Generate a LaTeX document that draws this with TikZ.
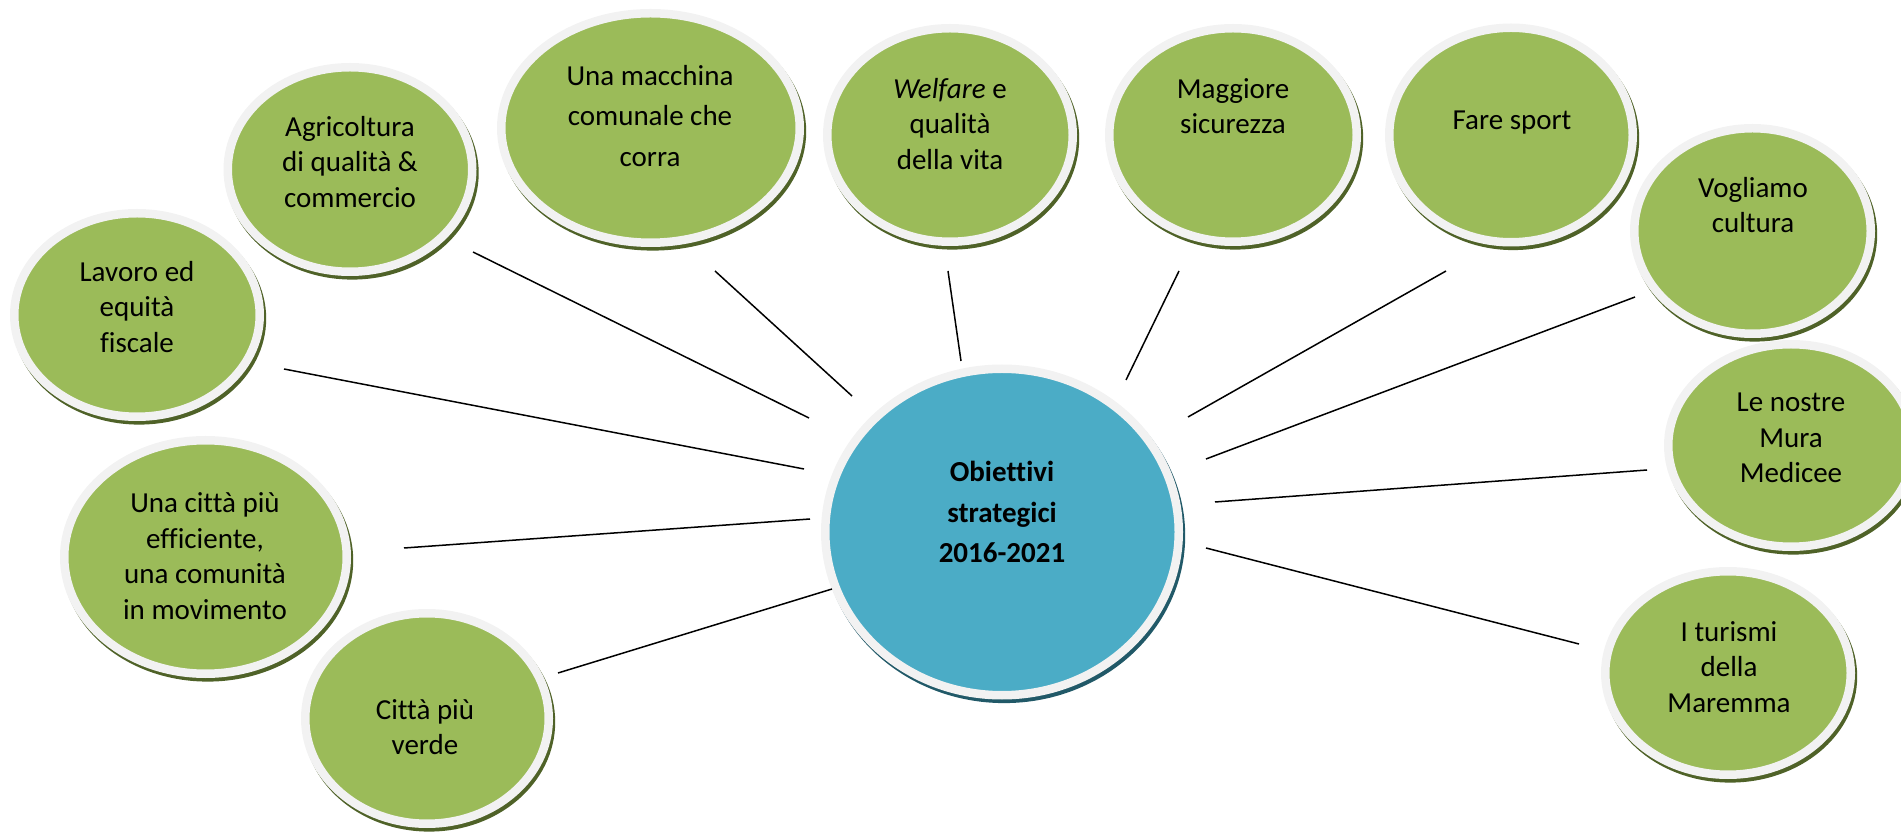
\documentclass[tikz,border=0pt]{standalone}
\usepackage{fontspec}
\setmainfont[Ligatures=NoCommon]{Carlito}
\usetikzlibrary{shapes.geometric,positioning}

\definecolor{goalgreen}{HTML}{9BBB59}
\definecolor{goalshade}{HTML}{4F6228}
\definecolor{hubblue}{HTML}{4BACC6}
\definecolor{hubshade}{HTML}{215968}
\definecolor{ringgrey}{HTML}{F2F2F2}

\begin{document}
\begin{tikzpicture}[x=0.5pt,y=-0.5pt,
  bubble/.style={ellipse,inner sep=0pt,draw=ringgrey,line width=4.25pt},
  goal/.style={bubble,fill=goalgreen,
    preaction={draw=goalshade,fill=goalshade,line width=4.25pt,transform canvas={shift={(1.1pt,-1.8pt)}}}},
  hub/.style={bubble,fill=hubblue,
    preaction={draw=hubshade,fill=hubshade,line width=4.25pt,transform canvas={shift={(1.1pt,-1.8pt)}}}},
  goaltext/.style={align=center,inner sep=0pt,font=\fontsize{14.5pt}{17.75pt}\selectfont},
  widetext/.style={goaltext,font=\fontsize{14.5pt}{20.25pt}\selectfont},
  hubtext/.style={goaltext,font=\fontsize{14.5pt}{20.25pt}\selectfont\bfseries},
  spoke/.style={draw=black,line width=0.75pt}]
  \useasboundingbox (0,0) rectangle (1901,833);

  % Central goal
  \node[hub, minimum width=176.75pt, minimum height=163.25pt] (hub) at (1002,532) {};
  \node[hubtext] (hub-txt) at (1002,512) {Obiettivi\\strategici\\2016-2021};

  % Left side
  \node[goal, minimum width=122.75pt, minimum height=101.75pt] (lavoro) at (137,315) {};
  \node[goaltext] (lavoro-txt) at (137,307) {Lavoro ed\\equità\\fiscale};

  \node[goal, minimum width=141.25pt, minimum height=116.75pt] (efficiente) at (205.5,557) {};
  \node[goaltext] (efficiente-txt) at (205,556) {Una città più\\efficiente,\\una comunità\\in movimento};

  \node[goal, minimum width=121.75pt, minimum height=105.25pt] (verde) at (427,718.5) {};
  \node[goaltext] (verde-txt) at (425,727) {Città più\\verde};

  % Top row
  \node[goal, minimum width=122.25pt, minimum height=102.25pt] (agricoltura) at (350,169.5) {};
  \node[goaltext] (agricoltura-txt) at (350,162) {Agricoltura\\di qualità \&\\commercio};

  \node[goal, minimum width=149.25pt, minimum height=114.75pt] (macchina) at (650.5,128) {};
  \node[widetext] (macchina-txt) at (650,116) {Una macchina\\comunale che\\corra};

  \node[goal, minimum width=122.75pt, minimum height=106.75pt] (welfare) at (950,135) {};
  \node[goaltext] (welfare-txt) at (950,124) {\textit{Welfare} e\\qualità\\della vita};

  \node[goal, minimum width=123.75pt, minimum height=106.75pt] (maggiore) at (1233,135) {};
  \node[goaltext] (maggiore-txt) at (1233,106) {Maggiore\\sicurezza};

  \node[goal, minimum width=121.75pt, minimum height=107.25pt] (sport) at (1511,135) {};
  \node[goaltext] (sport-txt) at (1512,123) {Fare sport};

  % Right side
  \node[goal, minimum width=118.25pt, minimum height=102.75pt] (cultura) at (1752.5,231) {};
  \node[goaltext] (cultura-txt) at (1753,205) {Vogliamo\\cultura};

  \node[goal, minimum width=122.75pt, minimum height=101.25pt] (mura) at (1791,445.5) {};
  \node[goaltext] (mura-txt) at (1791,438) {Le nostre\\Mura\\Medicee};

  \node[goal, minimum width=122.75pt, minimum height=101.75pt] (turismi) at (1728,673) {};
  \node[goaltext] (turismi-txt) at (1729,667) {I turismi\\della\\Maremma};

  % Spokes: free ends between each goal and the hub
  \foreach \n/\xa/\ya/\xb/\yb in {lavoro/284/369/804/469, agricoltura/473/252/809/418,
      macchina/715/271/852/396, welfare/948/271/961/361, maggiore/1179/271/1126/380,
      sport/1446/271/1188/417, cultura/1635/297/1206/459, mura/1647/470/1215/502,
      turismi/1579/644/1206/548, efficiente/404/548/810/519, verde/558/673/832/589} {
    \coordinate (\n-a) at (\xa,\ya);
    \coordinate (\n-b) at (\xb,\yb);
    \draw[spoke] (\n-a) -- (\n-b);
  }
\end{tikzpicture}
\end{document}
